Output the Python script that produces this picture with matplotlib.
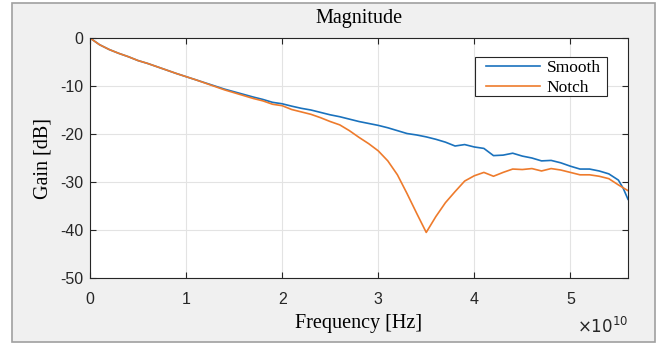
import numpy as np
import matplotlib.pyplot as plt
from matplotlib.patches import Rectangle

# frequency grid (x 1e10 Hz)
freq = np.array([0.0, 0.1, 0.2, 0.3, 0.4, 0.5, 0.6, 0.7, 0.8, 0.9,
                 1.0, 1.1, 1.2, 1.3, 1.4, 1.5, 1.6, 1.7, 1.8, 1.9,
                 2.0, 2.1, 2.2, 2.3, 2.4, 2.5, 2.6, 2.7, 2.8, 2.9,
                 3.0, 3.1, 3.2, 3.3, 3.4, 3.5, 3.6, 3.7, 3.8, 3.9,
                 4.0, 4.1, 4.2, 4.3, 4.4, 4.5, 4.6, 4.7, 4.8, 4.9,
                 5.0, 5.1, 5.2, 5.3, 5.4, 5.5, 5.55, 5.6]) * 1e10

smooth_db = [0.0, -1.4, -2.4, -3.2, -3.9, -4.7, -5.3, -6.0, -6.7, -7.4,
             -8.05, -8.7, -9.35, -10.0, -10.65, -11.2, -11.75, -12.3, -12.8, -13.4,
             -13.7, -14.2, -14.65, -15.0, -15.5, -16.0, -16.4, -16.9, -17.4, -17.8,
             -18.2, -18.7, -19.3, -19.9, -20.2, -20.6, -21.1, -21.7, -22.5, -22.2,
             -22.7, -23.0, -24.5, -24.4, -24.0, -24.6, -25.0, -25.6, -25.5, -26.0,
             -26.7, -27.3, -27.3, -27.7, -28.3, -29.6, -31.3, -33.6]

notch_db = [0.0, -1.4, -2.4, -3.2, -3.9, -4.7, -5.3, -6.0, -6.7, -7.4,
            -8.05, -8.7, -9.4, -10.1, -10.8, -11.4, -12.0, -12.6, -13.1, -13.8,
            -14.1, -14.9, -15.4, -15.9, -16.6, -17.4, -18.1, -19.3, -20.7, -22.0,
            -23.5, -25.6, -28.5, -32.4, -36.5, -40.5, -37.2, -34.3, -32.0, -29.8,
            -28.7, -28.0, -28.8, -28.0, -27.3, -27.4, -27.2, -27.7, -27.2, -27.5,
            -28.0, -28.5, -28.5, -28.8, -29.3, -30.6, -31.2, -31.8]

serif = 'Liberation Serif'
sans = 'Liberation Sans'

fig = plt.figure(figsize=(6.69, 3.48), dpi=100, facecolor='white')
# grey MATLAB-style figure panel
fig.patches.append(Rectangle((0.018, 0.017), 0.961, 0.974, transform=fig.transFigure,
                             facecolor='#f0f0f0', edgecolor='#a0a0a0', linewidth=1.2, zorder=-5))

ax = fig.add_axes([0.1345, 0.2011, 0.8042, 0.6897])
ax.plot(freq, smooth_db, color='#1a72bd', linewidth=1.2, label='Smooth')
ax.plot(freq, notch_db, color='#ee7b2c', linewidth=1.2, label='Notch')

ax.set_xlim(0, 5.6e10)
ax.set_ylim(-50, 0)
ax.set_xticks(np.arange(0, 6) * 1e10)
ax.set_xticklabels(['0', '1', '2', '3', '4', '5'])
ax.set_yticks([-50, -40, -30, -20, -10, 0])
ax.set_yticklabels(['-50', '-40', '-30', '-20', '-10', '0'])
ax.tick_params(direction='in', top=True, right=True, length=4, width=0.8,
               color='#262626', labelsize=11.5)
ax.tick_params(axis='x', pad=10)
ax.tick_params(axis='y', pad=4.5)
for lab in ax.get_xticklabels() + ax.get_yticklabels():
    lab.set_fontfamily(sans)
    lab.set_color('#262626')
for sp in ax.spines.values():
    sp.set_color('#262626')
    sp.set_linewidth(0.8)
ax.grid(True, color='#e3e3e3', linewidth=0.8)
ax.set_axisbelow(True)

ax.set_title('Magnitude', fontfamily=serif, fontsize=14.5, pad=11)
ax.set_xlabel('Frequency [Hz]', fontfamily=serif, fontsize=14.5, labelpad=5)
ax.set_ylabel('Gain [dB]', fontfamily=serif, fontsize=14.5, labelpad=6)
ax.text(1.0, -0.2, r'$\times10^{10}$', transform=ax.transAxes, ha='right', va='center',
        fontsize=12, fontfamily=sans, color='#262626')

# legend box drawn separately so the side padding can be wider than the top/bottom
ax.add_patch(Rectangle((0.7156, 0.758), 0.2454, 0.163, transform=ax.transAxes,
                       facecolor='white', edgecolor='#262626', linewidth=0.8, zorder=4))
leg = ax.legend(loc='upper left', bbox_to_anchor=(0.736, 0.91), prop={'family': serif, 'size': 12.5},
                frameon=False, borderaxespad=0, borderpad=0,
                handlelength=3.1, labelspacing=0.22, handletextpad=0.4)
leg.set_zorder(5)

fig.savefig('out.png', dpi=100)
